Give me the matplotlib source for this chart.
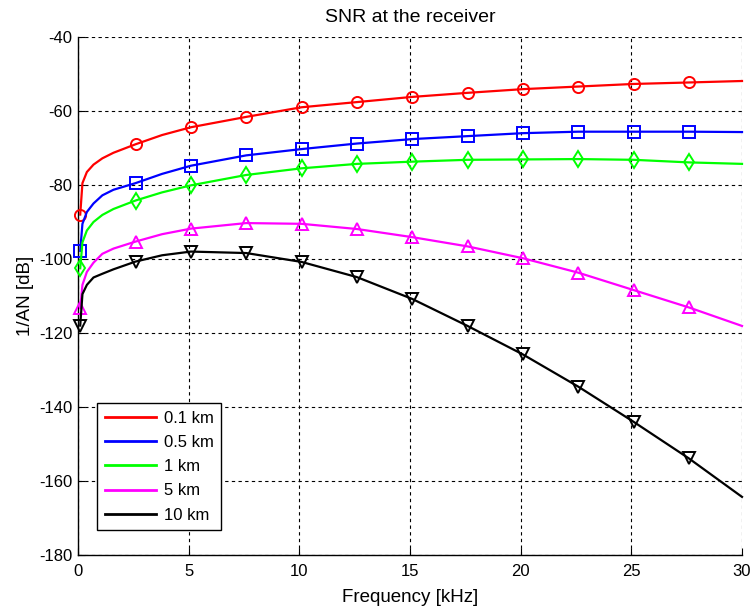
import matplotlib
matplotlib.use("Agg")
import matplotlib.pyplot as plt
from matplotlib.lines import Line2D

plt.rcParams['font.family'] = ['Liberation Sans', 'DejaVu Sans']
plt.rcParams['axes.unicode_minus'] = False

freq = [0.1, 0.2, 0.4, 0.7, 1.1, 1.6, 2.6, 3.8, 5.1, 7.6, 10.1, 12.6, 15.1,
        17.6, 20.1, 22.6, 25.1, 27.6, 30.0]
marker_freqs = [0.1, 2.6, 5.1, 7.6, 10.1, 12.6, 15.1, 17.6, 20.1, 22.6, 25.1, 27.6]

snr_01km = [-88.0, -79.5, -76.5, -74.5, -72.8, -71.3, -69.0, -66.5, -64.4, -61.6,
            -59.0, -57.6, -56.2, -55.1, -54.1, -53.4, -52.7, -52.3, -51.9]
snr_05km = [-97.8, -90.5, -87.3, -85.0, -82.8, -81.3, -79.5, -77.0, -74.8, -72.0,
            -70.3, -68.8, -67.6, -66.8, -66.0, -65.6, -65.6, -65.6, -65.7]
snr_1km = [-102.5, -95.5, -92.3, -90.0, -88.1, -86.5, -84.2, -82.0, -80.1, -77.3,
           -75.5, -74.3, -73.7, -73.2, -73.1, -73.0, -73.2, -73.9, -74.3]
snr_5km = [-113.3, -107.0, -103.5, -101.0, -98.6, -97.2, -95.3, -93.3, -91.8, -90.3,
           -90.5, -91.9, -94.1, -96.6, -99.8, -103.7, -108.4, -113.1, -118.1]
snr_10km = [-118.0, -109.5, -107.0, -105.0, -104.0, -102.8, -100.7, -99.0, -98.0, -98.4,
            -100.8, -104.9, -110.8, -118.1, -125.8, -134.5, -144.0, -153.9, -164.3]

labels = ['0.1 km', '0.5 km', '1 km', '5 km', '10 km']
series = [snr_01km, snr_05km, snr_1km, snr_5km, snr_10km]
colors = ['#ff0000', '#0000ff', '#00ff00', '#ff00ff', '#000000']
markers = ['o', 's', 'd', '^', 'v']

xticks = [0, 5, 10, 15, 20, 25, 30]
yticks = [-180, -160, -140, -120, -100, -80, -60, -40]

fig = plt.figure(figsize=(7.53, 6.10), dpi=100)
ax = fig.add_axes([0.1036, 0.0902, 0.8818, 0.8492])

mark_idx = [freq.index(f) for f in marker_freqs]
for vals, c, m in zip(series, colors, markers):
    ax.plot(freq, vals, color=c, lw=1.6, marker=m, markevery=mark_idx,
            markersize=8, markerfacecolor='none', markeredgecolor=c,
            markeredgewidth=1.4, zorder=3, clip_on=False)

ax.set_xlim(0, 30)
ax.set_ylim(-180, -40)
ax.set_xticks(xticks)
ax.set_yticks(yticks)
ax.tick_params(direction='in', length=5, width=0.8, labelsize=12, colors='black')
ax.tick_params(axis='x', pad=6.5)
ax.tick_params(axis='y', pad=4)
ax.grid(True, color='black', linestyle=(0, (3, 3)), linewidth=0.8)
ax.spines['top'].set_visible(False)
ax.spines['right'].set_visible(False)
for s in ['left', 'bottom']:
    ax.spines[s].set_linewidth(1.0)

ax.set_title('SNR at the receiver', fontsize=14, pad=11)
ax.set_xlabel('Frequency [kHz]', fontsize=13.5, labelpad=7)
ax.set_ylabel('1/AN [dB]', fontsize=13.5, labelpad=4)

handles = [Line2D([0], [0], color=c, lw=2) for c in colors]
leg = ax.legend(handles, labels, loc='lower left', bbox_to_anchor=(0.029, 0.048),
                borderaxespad=0, fontsize=12, handlelength=3.05, handletextpad=0.48,
                labelspacing=0.55, borderpad=0.45, fancybox=False, framealpha=1,
                edgecolor='black')
leg.get_frame().set_linewidth(1.0)

fig.savefig('out.png', dpi=100)
